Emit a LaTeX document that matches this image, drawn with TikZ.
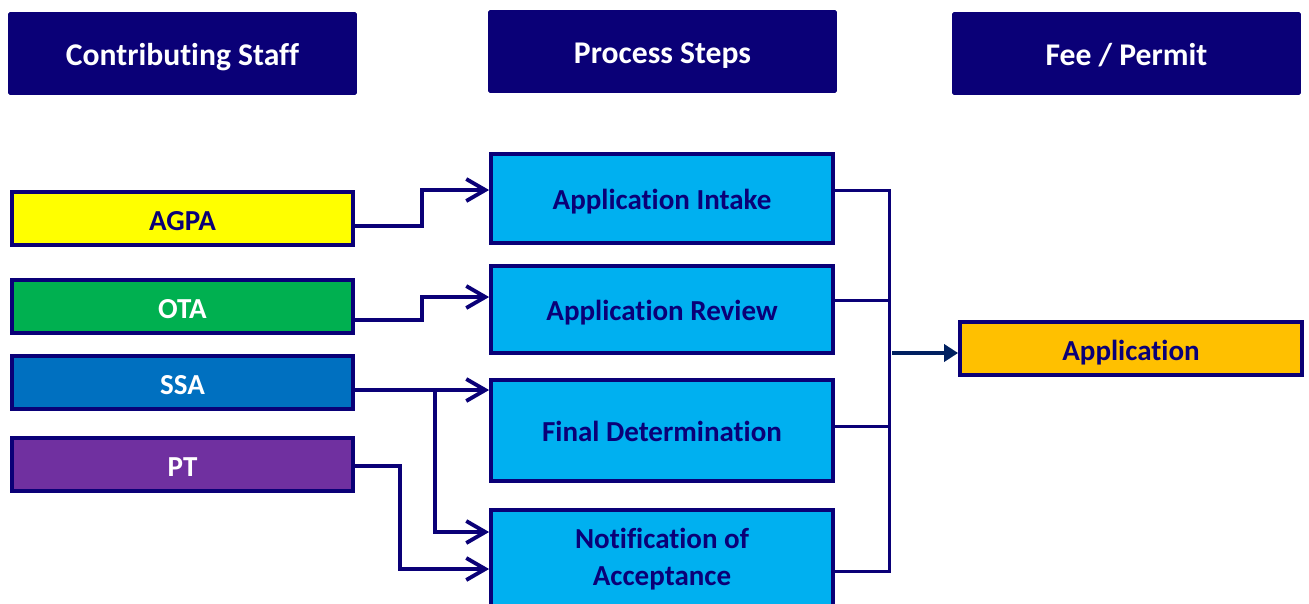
\documentclass[tikz,border=0pt]{standalone}
\usepackage{fontspec}
\setmainfont{Carlito}[Ligatures=NoCommon]
\usetikzlibrary{arrows.meta}
\usetikzlibrary{calc}
\usetikzlibrary{positioning}
\definecolor{navy}{HTML}{0A0077}
\definecolor{darknavy}{HTML}{002060}
\definecolor{stepblue}{HTML}{00B0F0}
\definecolor{agpayellow}{HTML}{FFFF00}
\definecolor{otagreen}{HTML}{00B050}
\definecolor{ssablue}{HTML}{0070C0}
\definecolor{ptpurple}{HTML}{7030A0}
\definecolor{feeorange}{HTML}{FFC000}
\tikzset{
    header/.style = {fill=navy,text=white,rounded corners=1pt,inner sep=0,
        minimum width=6.98cm,minimum height=1.66cm,text height=0.6cm,text depth=0.13cm,
        font=\bfseries\fontsize{18}{21}\selectfont},
    staff/.style = {draw=navy,line width=2.2pt,inner sep=0,
        minimum width=6.82cm,minimum height=1.06cm,text height=0.57cm,text depth=0.1cm,
        font=\bfseries\fontsize{16.5}{20}\selectfont},
    stepbox/.style = {draw=navy,fill=stepblue,text=navy,line width=2.2pt,inner sep=0,
        minimum width=6.84cm,align=center,
        font=\bfseries\fontsize{16.5}{21}\selectfont},
    oneline/.style = {text height=0.53cm,text depth=0.1cm}
}
\tikzset{
    feed/.style = {navy,line width=2.2pt,-{Straight Barb[length=0.38cm,width=0.44cm,line width=2.2pt]}},
    merge/.style = {navy,line width=1.7pt},
    result/.style = {darknavy,line width=2.3pt,-{Triangle[length=0.28cm,width=0.34cm]}}
}

\begin{document}
\begin{tikzpicture}[x=0.02cm,y=-0.02cm]
    \useasboundingbox (0,0) rectangle (1309,603);
    % Headers
    \node[header] (hstaff) at (182.5,53.5) {Contributing Staff};
    \node[header] (hsteps) at (662.5,51.5) {Process Steps};
    \node[header] (hfee) at (1126.5,53.5) {Fee / Permit};
    % Staff
    \node[staff,fill=agpayellow,text=navy] (agpa) at (182.5,218.5) {AGPA};
    \node[staff,fill=otagreen,text=white] (ota) at (182.5,306.5) {OTA};
    \node[staff,fill=ssablue,text=white] (ssa) at (182.5,382.5) {SSA};
    \node[staff,fill=ptpurple,text=white] (pt) at (182.5,464.5) {PT};
    % Steps
    \node[stepbox,oneline,minimum height=1.78cm] (intake) at (662,198.5) {Application Intake};
    \node[stepbox,oneline,minimum height=1.74cm] (review) at (662,309.5) {Application Review};
    \node[stepbox,oneline,minimum height=2.02cm] (final) at (662,430.5) {Final Determination};
    \node[stepbox,minimum height=1.96cm] (notif) at (662,559) {Notification of\\Acceptance};
    % Fee
    \node[staff,fill=feeorange,text=navy,minimum width=6.84cm] (appl) at (1131,348.5) {Application};
    % Staff to steps
    \draw[feed] ($(agpa.east)+(0,7.5)$) -- ++(67,0) |- ($(intake.west)+(0,-8.5)$);
    \draw[feed] ($(ota.east)+(0,13.5)$) -- ++(67,0) |- ($(review.west)+(0,-12.5)$);
    \draw[feed] ($(ssa.east)+(0,7.5)$) -- ($(final.west)+(0,-40.5)$);
    \draw[feed] ($(ssa.east)+(80,7.5)$) |- ($(notif.west)+(0,-27)$);
    \draw[feed] ($(pt.east)+(0,1.5)$) -- ++(45,0) |- ($(notif.west)+(0,10)$);
    % Steps to fee
    \coordinate (bus) at ($(intake.east)+(55,-8.5)$);
    \draw[merge] ($(intake.east)+(0,-8.5)$) -- (bus) -- ($(notif.east)+(55,12)$) -- ($(notif.east)+(0,12)$);
    \foreach \src/\dy in {review/-9.5,final/-4.5}
        \draw[merge] ($(\src.east)+(0,\dy)$) -- ++(55,0);
    \draw[result] ($(appl.west)+(-66,4.5)$) -- ($(appl.west)+(0,4.5)$);
\end{tikzpicture}
\end{document}
